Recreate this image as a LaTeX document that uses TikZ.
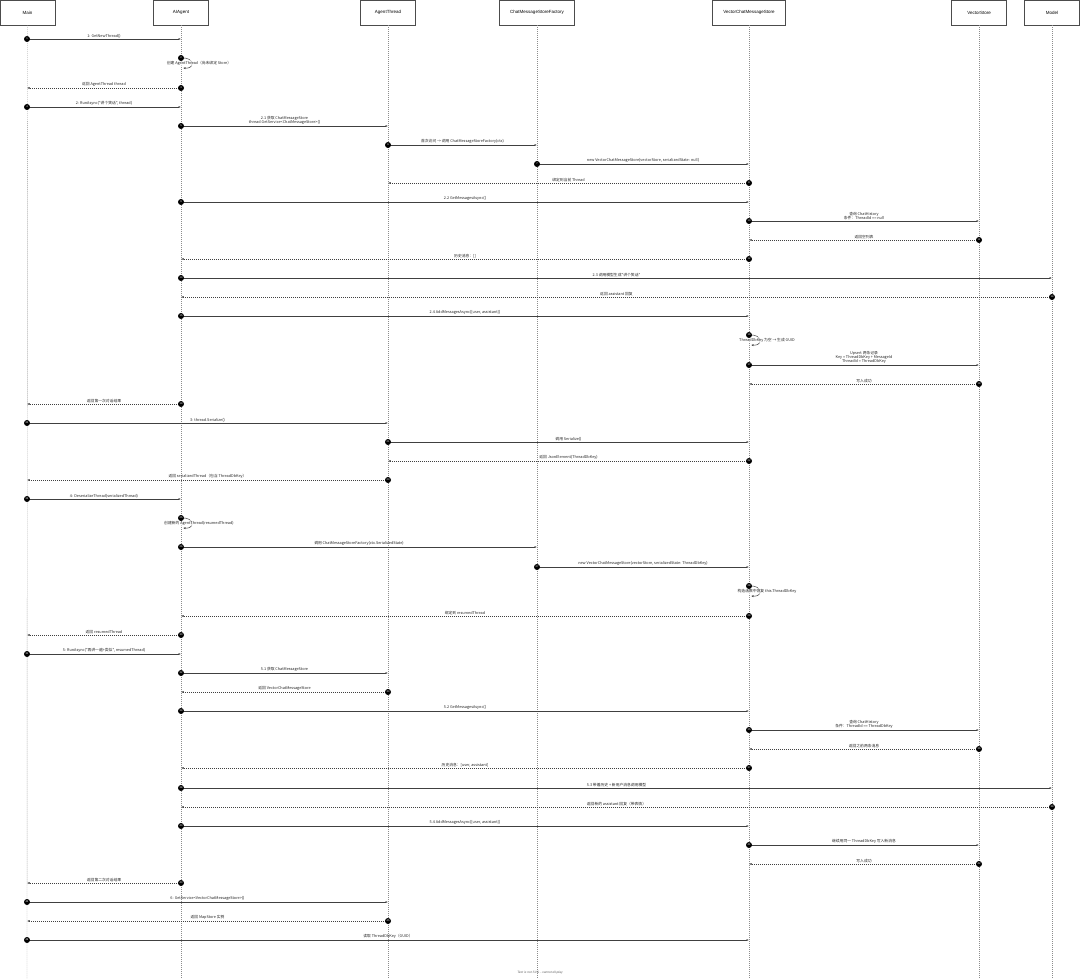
\documentclass[tikz,border=0pt]{standalone}
\usepackage{fontspec}
\setmainfont{Liberation Sans}
\newfontfamily\cjk{Noto Sans CJK SC}
\usetikzlibrary{arrows.meta}
\begin{document}
\begin{tikzpicture}[x=1pt,y=-1pt,
  hdr/.style={draw=black!70,line width=0.5pt,minimum width=#1,minimum height=25pt,inner sep=0pt,font=\fontsize{4.5}{5}\selectfont},
  life/.style={draw=black!45,dash pattern=on 1pt off 1pt,line width=0.4pt},
  msg/.style={draw=black!75,line width=0.5pt,-{Latex[length=2.5pt,width=2pt]}},
  ret/.style={dash pattern=on 1pt off 1pt},
  lbl/.style={font=\cjk\fontsize{3.8}{4.4}\selectfont,inner sep=1pt,align=center,text=black!85},
  dot/.style={circle,fill=black,inner sep=0pt,minimum size=6pt,text=white,font=\fontsize{2.6}{3}\selectfont}]
\useasboundingbox (0,0) rectangle (1080,979);
\fill[white] (0,0) rectangle (1080,979);
\def\xM{27}\def\xA{181}\def\xT{388}\def\xF{537}\def\xV{749}\def\xS{979}\def\xL{1052}
\node[hdr=55pt] (hM) at (27.5,12.5) {Main};
\node[hdr=55pt] (hA) at (181,12.5) {AIAgent};
\node[hdr=55pt] (hT) at (388,12.5) {AgentThread};
\node[hdr=75pt] (hF) at (537,12.5) {ChatMessageStoreFactory};
\node[hdr=73pt] (hV) at (749,12.5) {VectorChatMessageStore};
\node[hdr=55pt] (hS) at (979,12.5) {VectorStore};
\node[hdr=55pt] (hL) at (1052,12.5) {Model};
\foreach \n/\x in {M/27,A/181,T/388,F/537,V/749,S/979,L/1052}{
  \coordinate (b\n) at (\x,979);
  \draw[life] (h\n.south) -- (b\n);}
\newcommand\Msg[6]{%
  \coordinate (s#1) at (#3,#2); \coordinate (e#1) at (#4,#2);
  \draw[msg,#5] (s#1) -- (e#1) node[midway,above,lbl]{#6};
  \node[dot] (n#1) at (s#1) {#1};}
\newcommand\Self[4]{%
  \coordinate (s#1) at (#3,#2); \coordinate (e#1) at (#3+2,#2+10);
  \draw[msg] (s#1) .. controls (#3+14,#2-1) and (#3+14,#2+11) .. (e#1);
  \node[lbl,fill=white,fill opacity=0.6,text opacity=1] (t#1) at (#3+18,#2+5) {#4};
  \node[dot] (n#1) at (s#1) {#1};}
\Msg{1}{39}{\xM}{\xA}{}{1: GetNewThread()}
\Self{2}{58}{\xA}{创建 AgentThread（尚未绑定 Store）}
\Msg{3}{88}{\xA}{\xM}{ret}{返回 AgentThread thread}
\Msg{4}{107}{\xM}{\xA}{}{2: RunAsync("讲个笑话", thread)}
\Msg{5}{126}{\xA}{\xT}{}{2.1 获取 ChatMessageStore\\thread.GetService<ChatMessageStore>()}
\Msg{6}{145}{\xT}{\xF}{}{首次访问 → 调用 ChatMessageStoreFactory(ctx)}
\Msg{7}{164}{\xF}{\xV}{}{new VectorChatMessageStore(vectorStore, serializedState: null)}
\Msg{8}{183}{\xV}{\xT}{ret}{绑定到当前 Thread}
\Msg{9}{202}{\xA}{\xV}{}{2.2 GetMessagesAsync()}
\Msg{10}{221}{\xV}{\xS}{}{查询 ChatHistory\\条件：ThreadId == null}
\Msg{11}{240}{\xS}{\xV}{ret}{返回空列表}
\Msg{12}{259}{\xV}{\xA}{ret}{历史消息：[]}
\Msg{13}{278}{\xA}{\xL}{}{2.3 调用模型生成"讲个笑话"}
\Msg{14}{297}{\xL}{\xA}{ret}{返回 assistant 回复}
\Msg{15}{316}{\xA}{\xV}{}{2.4 AddMessagesAsync([user, assistant])}
\Self{16}{335}{\xV}{ThreadDbKey 为空 → 生成 GUID}
\Msg{17}{365}{\xV}{\xS}{}{Upsert 两条记录\\Key = ThreadDbKey + MessageId\\ThreadId = ThreadDbKey}
\Msg{18}{384}{\xS}{\xV}{ret}{写入成功}
\Msg{19}{404}{\xA}{\xM}{ret}{返回第一次对话结果}
\Msg{20}{423}{\xM}{\xT}{}{3: thread.Serialize()}
\Msg{21}{442}{\xT}{\xV}{}{调用 Serialize()}
\Msg{22}{461}{\xV}{\xT}{ret}{返回 JsonElement(ThreadDbKey)}
\Msg{23}{480}{\xT}{\xM}{ret}{返回 serializedThread（包含 ThreadDbKey）}
\Msg{24}{499}{\xM}{\xA}{}{4: DeserializeThread(serializedThread)}
\Self{25}{518}{\xA}{创建新的 AgentThread(resumedThread)}
\Msg{26}{547}{\xA}{\xF}{}{调用 ChatMessageStoreFactory(ctx.SerializedState)}
\Msg{27}{567}{\xF}{\xV}{}{new VectorChatMessageStore(vectorStore, serializedState: ThreadDbKey)}
\Self{28}{586}{\xV}{构造函数中恢复 this.ThreadDbKey}
\Msg{29}{616}{\xV}{\xA}{ret}{绑定到 resumedThread}
\Msg{30}{635}{\xA}{\xM}{ret}{返回 resumedThread}
\Msg{31}{654}{\xM}{\xA}{}{5: RunAsync("再讲一遍+类似", resumedThread)}
\Msg{32}{673}{\xA}{\xT}{}{5.1 获取 ChatMessageStore}
\Msg{33}{692}{\xT}{\xA}{ret}{返回 VectorChatMessageStore}
\Msg{34}{711}{\xA}{\xV}{}{5.2 GetMessagesAsync()}
\Msg{35}{730}{\xV}{\xS}{}{查询 ChatHistory\\条件：ThreadId == ThreadDbKey}
\Msg{36}{749}{\xS}{\xV}{ret}{返回之前两条消息}
\Msg{37}{768}{\xV}{\xA}{ret}{历史消息：[user, assistant]}
\Msg{38}{788}{\xA}{\xL}{}{5.3 带着历史 + 新用户消息调用模型}
\Msg{39}{807}{\xL}{\xA}{ret}{返回新的 assistant 回复（带表情）}
\Msg{40}{826}{\xA}{\xV}{}{5.4 AddMessagesAsync([user, assistant])}
\Msg{41}{845}{\xV}{\xS}{}{继续用同一 ThreadDbKey 写入新消息}
\Msg{42}{864}{\xS}{\xV}{ret}{写入成功}
\Msg{43}{883}{\xA}{\xM}{ret}{返回第二次对话结果}
\Msg{44}{902}{\xM}{\xT}{}{6: GetService<VectorChatMessageStore>()}
\Msg{45}{921}{\xT}{\xM}{ret}{返回 MapStore 实例}
\Msg{46}{940}{\xM}{\xV}{}{读取 ThreadDbKey（GUID）}
\node[font=\fontsize{3.2}{4}\selectfont\itshape,text=black!60] (foot) at (540,973) {Text is not SVG - cannot display};
\end{tikzpicture}
\end{document}
